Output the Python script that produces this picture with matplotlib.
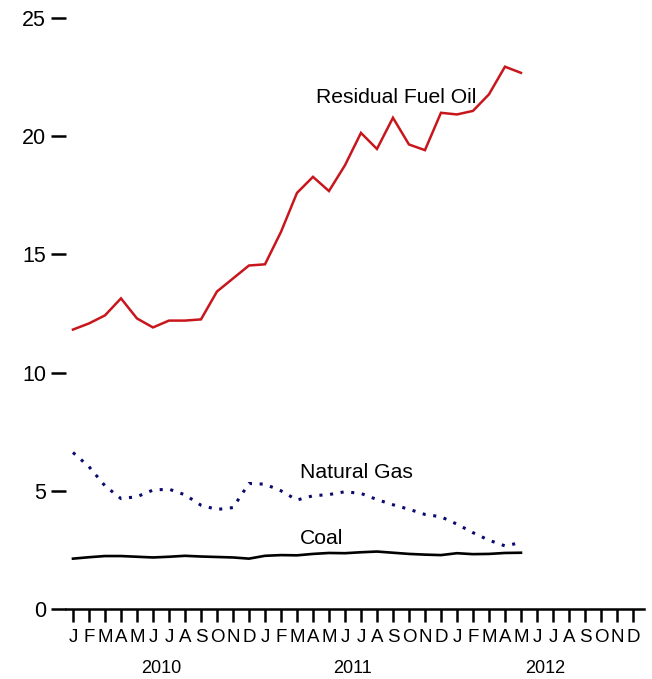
import numpy as np
import matplotlib
matplotlib.use("Agg")
import matplotlib.pyplot as plt

plt.rcParams['font.family'] = ['Liberation Sans', 'DejaVu Sans']

# monthly values, Jan 2010 .. May 2012
residual_fuel_oil = [11.82, 12.08, 12.42, 13.14, 12.29, 11.91, 12.20, 12.20, 12.25, 13.43,
                     13.98, 14.53, 14.58, 15.95, 17.60, 18.28, 17.68, 18.77, 20.14, 19.46,
                     20.78, 19.65, 19.41, 20.99, 20.92, 21.07, 21.77, 22.94, 22.68]
natural_gas = [6.62, 6.02, 5.21, 4.67, 4.75, 5.03, 5.07, 4.83, 4.39, 4.21,
               4.29, 5.31, 5.28, 5.00, 4.61, 4.79, 4.84, 4.96, 4.89, 4.63,
               4.41, 4.22, 4.00, 3.90, 3.59, 3.23, 2.91, 2.67, 2.81]
coal = [2.13, 2.19, 2.24, 2.24, 2.21, 2.18, 2.21, 2.25, 2.22, 2.20,
        2.18, 2.13, 2.25, 2.28, 2.27, 2.33, 2.37, 2.36, 2.40, 2.43,
        2.38, 2.33, 2.30, 2.28, 2.36, 2.32, 2.33, 2.37, 2.38]

month_letters = ['J', 'F', 'M', 'A', 'M', 'J', 'J', 'A', 'S', 'O', 'N', 'D'] * 3
years = ['2010', '2011', '2012']
y_ticks = [0, 5, 10, 15, 20, 25]

months = np.arange(len(residual_fuel_oil))

fig = plt.figure(figsize=(6.52, 6.79), dpi=100)
ax = fig.add_axes([0.1012, 0.1031, 0.8865, 0.8704])

ax.plot(months, residual_fuel_oil, color='#c8161d', lw=1.8, solid_joinstyle='miter')
ax.plot(months, natural_gas, color='#0a0a6e', lw=2.2, linestyle=(0, (1, 2.5)))
ax.plot(months, coal, color='black', lw=1.9)

ax.text(15.2, 21.65, 'Residual Fuel Oil', fontsize=15.2, va='center', ha='left')
ax.text(14.2, 5.76, 'Natural Gas', fontsize=15.2, va='center', ha='left')
ax.text(14.2, 3.0, 'Coal', fontsize=15.2, va='center', ha='left')

ax.set_xlim(-0.4375, 35.69)
ax.set_ylim(0, 25)

for s in ['left', 'top', 'right']:
    ax.spines[s].set_visible(False)
ax.spines['bottom'].set_linewidth(1.8)

ax.set_yticks(y_ticks)
ax.set_yticklabels([str(v) for v in y_ticks], fontsize=15.5)
ax.tick_params(axis='y', length=10.8, width=1.8, pad=3.5, direction='out')

ax.set_xticks(np.arange(36))
ax.set_xticklabels(month_letters, fontsize=13.5)
ax.tick_params(axis='x', which='major', length=9.4, width=1.8, pad=5, direction='out')

ax.set_xticks([5.5, 17.5, 29.5], minor=True)
ax.set_xticklabels(years, minor=True, fontsize=13)
ax.tick_params(axis='x', which='minor', length=0, pad=37)

fig.savefig('out.png', dpi=100)
